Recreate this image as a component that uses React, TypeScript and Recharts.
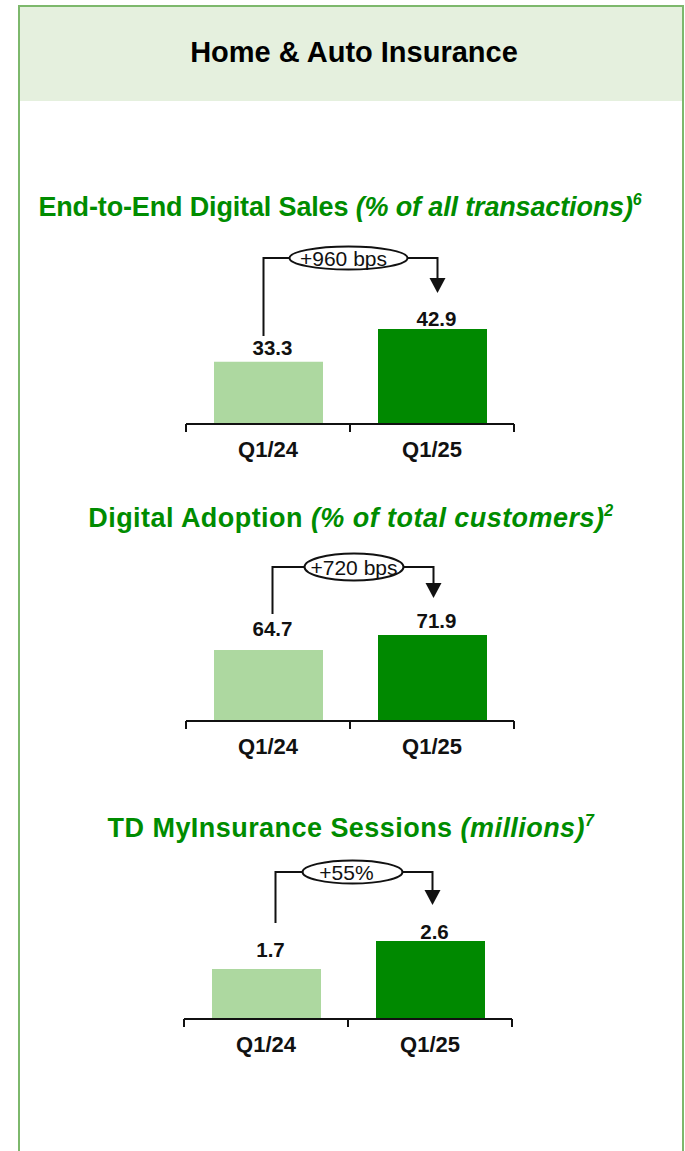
import { BarChart, Bar, XAxis, YAxis, LabelList, Cell } from 'recharts';

// data
const periods = ['Q1/24', 'Q1/25'];
const digitalSales = [33.3, 42.9];
const digitalAdoption = [64.7, 71.9];
const myInsuranceSessions = [1.7, 2.6];
const changeLabels = ['+960 bps', '+720 bps', '+55%'];

const FONT = '"Liberation Sans", Arial, Helvetica, sans-serif';
const LIGHT = '#ADD8A0';
const DARK = '#008900';
const TITLE_GREEN = '#008C00';
const INK = '#111';

const PLOT_W = 328;
const BAND = PLOT_W / periods.length;

interface Panel {
  titleMain: string;
  titleSub: string;
  note: string;
  values: number[];
  change: string;
  titleTop: number;
  titleShift: number;
  titleSize: number;
  titleSpacing: number;
  top: number;
  axisY: number;
  plotLeft: number;
  yMin: number;
  ppu: number;
  bracketY: number;
  leftEnd: number;
  tipY: number;
  leftDx: number;
  rightDx: number;
  ellipseDx: number;
  textDx: number;
  erx: number;
  ery: number;
  labelGap: number[];
}

const panels: Panel[] = [
  {
    titleMain: 'End-to-End Digital Sales', titleSub: '(% of all transactions)', note: '6',
    values: digitalSales, change: changeLabels[0],
    titleTop: 194, titleShift: -10, titleSize: 27, titleSpacing: -0.15,
    top: 235, axisY: 424, plotLeft: 186, yMin: 15.0, ppu: 3.406,
    bracketY: 258, leftEnd: 336, tipY: 293, leftDx: -5, rightDx: 5, ellipseDx: -2, textDx: -5, erx: 59, ery: 11.5,
    labelGap: [7, 3],
  },
  {
    titleMain: 'Digital Adoption', titleSub: '(% of total customers)', note: '2',
    values: digitalAdoption, change: changeLabels[1],
    titleTop: 505, titleShift: 1, titleSize: 27, titleSpacing: 0.45,
    top: 545, axisY: 721, plotLeft: 186, yMin: 30.6, ppu: 2.083,
    bracketY: 567, leftEnd: 614, tipY: 598, leftDx: 4, rightDx: 1, ellipseDx: 3.5, textDx: 0, erx: 49.5, ery: 13.5,
    labelGap: [14, 7],
  },
  {
    titleMain: 'TD MyInsurance Sessions', titleSub: '(millions)', note: '7',
    values: myInsuranceSessions, change: changeLabels[2],
    titleTop: 815, titleShift: 1, titleSize: 27, titleSpacing: 0.45,
    top: 850, axisY: 1019, plotLeft: 184, yMin: 0.09, ppu: 31.11,
    bracketY: 872, leftEnd: 923, tipY: 905, leftDx: 9, rightDx: 2, ellipseDx: 4, textDx: -6, erx: 50, ery: 11.5,
    labelGap: [12, 2],
  },
];

const PeriodTick = (props: any) => {
  const { x, y, payload } = props;
  return (
    <g>
      <line x1={x - BAND / 2} x2={x - BAND / 2} y1={y} y2={y + 8} stroke={INK} strokeWidth={2} />
      <line x1={x + BAND / 2} x2={x + BAND / 2} y1={y} y2={y + 8} stroke={INK} strokeWidth={2} />
      <text x={x} y={y + 33} textAnchor="middle" fontFamily={FONT} fontWeight="bold" fontSize={22} fill={INK}>
        {payload.value}
      </text>
    </g>
  );
};

const makeValueLabel = (p: Panel) => (props: any) => {
  const vb = props.viewBox ?? props;
  const x = Number(vb.x ?? props.x);
  const y = Number(vb.y ?? props.y);
  const w = Number(vb.width ?? props.width);
  const value = Number(props.value);
  const idx = props.index ?? p.values.indexOf(value);
  const cx = x + w / 2;
  const label = (
    <text x={cx + 4} y={y - p.labelGap[idx]} textAnchor="middle" fontFamily={FONT} fontWeight="bold" fontSize={20.5} fill={INK}>
      {value.toFixed(1)}
    </text>
  );
  if (idx !== 1) return <g>{label}</g>;

  // change bracket, drawn from the second bar back to the first
  const cx0 = cx - BAND;
  const by = p.bracketY - p.top;
  const lx = cx0 + p.leftDx;
  const rx = cx + p.rightDx;
  const ex = (cx0 + cx) / 2 + p.ellipseDx;
  const tip = p.tipY - p.top;
  return (
    <g>
      <path
        d={`M${lx},${p.leftEnd - p.top} V${by} H${ex - p.erx} M${ex + p.erx},${by} H${rx} V${tip - 14}`}
        fill="none" stroke={INK} strokeWidth={2}
      />
      <polygon points={`${rx - 8},${tip - 15} ${rx + 8},${tip - 15} ${rx},${tip}`} fill={INK} />
      <ellipse cx={ex} cy={by} rx={p.erx} ry={p.ery} fill="#fff" stroke={INK} strokeWidth={2} />
      <text x={ex + p.textDx} y={by + 7.5} textAnchor="middle" fontFamily={FONT} fontSize={21} fill={INK}>
        {p.change}
      </text>
      {label}
    </g>
  );
};

const PanelChart = ({ p }: { p: Panel }) => {
  const data = periods.map((period, i) => ({ period, value: p.values[i] }));
  const plotH = p.axisY - p.top;
  const yMax = p.yMin + plotH / p.ppu;
  return (
    <>
      <div
        style={{
          position: 'absolute', left: 18, width: 664, top: p.titleTop, textAlign: 'center',
          transform: `translateX(${p.titleShift}px)`, color: TITLE_GREEN, fontWeight: 'bold',
          fontSize: p.titleSize, lineHeight: `${p.titleSize}px`, letterSpacing: p.titleSpacing, whiteSpace: 'nowrap',
        }}
      >
        {p.titleMain} <i>{p.titleSub}<span style={{ fontSize: 16, position: 'relative', top: -11 }}>{p.note}</span></i>
      </div>
      <div style={{ position: 'absolute', left: 0, top: p.top }}>
        <BarChart
          width={685}
          height={plotH + 40}
          data={data}
          margin={{ top: 0, right: 685 - p.plotLeft - PLOT_W, bottom: 0, left: p.plotLeft }}
          barSize={109}
        >
          <XAxis
            dataKey="period"
            height={40}
            tickLine={false}
            tickSize={0}
            tickMargin={0}
            axisLine={{ stroke: INK, strokeWidth: 2 }}
            tick={<PeriodTick />}
            interval={0}
          />
          <YAxis hide type="number" domain={[p.yMin, yMax]} allowDataOverflow />
          <Bar dataKey="value" isAnimationActive={false}>
            {data.map((d, i) => (
              <Cell key={d.period} fill={i === 0 ? LIGHT : DARK} />
            ))}
            <LabelList dataKey="value" content={makeValueLabel(p)} />
          </Bar>
        </BarChart>
      </div>
    </>
  );
};

export default function App() {
  return (
    <div style={{ position: 'absolute', left: 0, top: 0, width: 685, height: 1151, background: '#fff', fontFamily: FONT, overflow: 'hidden' }}>
      <div
        style={{
          position: 'absolute', left: 18, top: 5, width: 662, height: 1160,
          borderLeft: '2px solid #7DB86C', borderTop: '2px solid #7DB86C', borderRight: '2px solid #7DB86C',
        }}
      />
      <div style={{ position: 'absolute', left: 20, top: 7, width: 662, height: 94, background: '#E5F0DE' }} />
      <div
        style={{
          position: 'absolute', left: 18, width: 664, top: 38, textAlign: 'center', transform: 'translateX(4px)',
          fontWeight: 'bold', fontSize: 29, lineHeight: '29px', color: '#000', whiteSpace: 'nowrap',
        }}
      >
        Home &amp; Auto Insurance
      </div>
      {panels.map((p) => (
        <PanelChart key={p.titleMain} p={p} />
      ))}
    </div>
  );
}
